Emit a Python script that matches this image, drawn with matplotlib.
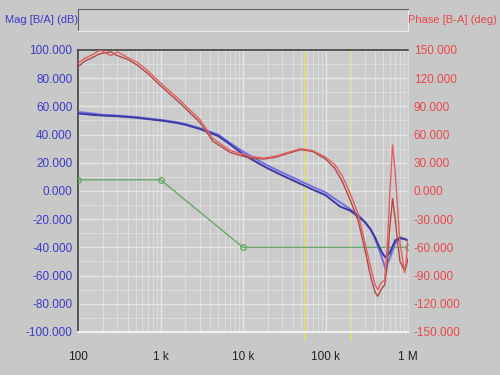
import numpy as np
import matplotlib
matplotlib.use('Agg')
import matplotlib.pyplot as plt
from matplotlib.ticker import FixedLocator, NullFormatter

plt.rcParams['font.family'] = ['Liberation Sans', 'DejaVu Sans']

# magnitude traces (dB)
mag_freq = [100, 150, 200, 300, 500, 700, 1e3, 1.5e3, 2e3, 3e3, 5e3, 7e3, 1e4, 1.5e4, 2e4, 3e4,
            5e4, 7e4, 1e5, 1.5e5, 2e5, 2.6e5, 3e5, 3.5e5, 4e5, 4.5e5, 5e5, 5.3e5, 6e5, 7e5, 8e5, 9e5, 1e6]
mag_a = [55, 54, 53.5, 53, 52, 51, 50, 48.5, 47, 44, 39, 33, 26, 20, 16, 11,
         5, 1, -3, -11, -14, -19, -22, -27, -33, -40, -45, -47, -44, -35, -33, -34, -35]
mag_b = [56, 55, 54, 53.5, 52.5, 51.5, 50.5, 49, 47.5, 44.5, 40, 34, 28, 22, 18, 13,
         7, 3, -1, -8, -13, -18, -22, -27, -34, -42, -50, -55, -48, -37, -34, -34, -35]

# phase traces (deg)
ph_freq = [100, 120, 150, 185, 250, 300, 400, 520, 700, 1e3, 1.7e3, 3e3, 4.3e3, 7e3, 1.2e4, 1.8e4,
           2.5e4, 3.5e4, 5e4, 7e4, 1e5, 1.3e5, 1.6e5, 2e5, 2.5e5, 3e5, 3.5e5, 4e5, 4.3e5, 4.7e5,
           5.2e5, 5.6e5, 6e5, 6.5e5, 7e5, 7.5e5, 8e5, 9.1e5, 9.5e5, 1e6]
ph_a = [136, 141, 145, 150, 144, 148, 142, 137, 128, 115, 97, 76, 56, 43, 37, 35,
        37, 41, 45, 43, 36, 28, 16, -3, -25, -55, -80, -100, -105, -98,
        -95, -60, -5, 49, 20, -20, -55, -87, -75, -52]
ph_b = [132, 138, 142, 146, 148, 144, 140, 134, 125, 112, 94, 73, 53, 41, 35, 34,
        36, 40, 44, 42, 34, 24, 10, -10, -32, -62, -90, -108, -112, -105,
        -100, -80, -40, -8, -30, -55, -75, -85, -80, -72]

# asymptote (dB)
asym_freq = [100, 1e3, 1e4, 1e6]
asym_mag = [8, 8, -40, -40]

markers = [56e3, 205e3]

x_ticks = [100, 1e3, 1e4, 1e5, 1e6]
x_labels = ['100', '1 k', '10 k', '100 k', '1 M']
mag_ticks = list(range(-100, 101, 20))
ph_ticks = list(range(-150, 151, 30))

bg = '#c8c8c8'
fig = plt.figure(figsize=(5, 3.75), dpi=100, facecolor=bg)
ax = fig.add_axes([0.156, 0.1147, 0.66, 0.752], facecolor='#cbcbcb')
ax.set_xscale('log')
ax.set_xlim(100, 1e6)
ax.set_ylim(-100, 100)

minor = [m * 10 ** d for d in range(2, 6) for m in range(2, 10)]
ax.xaxis.set_minor_locator(FixedLocator(minor))
ax.xaxis.set_minor_formatter(NullFormatter())
ax.set_xticks(x_ticks)
ax.set_xticklabels(x_labels)
ax.set_yticks(mag_ticks)
ax.set_yticklabels(['%.3f' % v for v in mag_ticks])
ax.set_yticks(list(range(-90, 100, 20)), minor=True)
ax.grid(True, which='major', color='#e6e6e6', lw=1.0)
ax.grid(True, which='minor', color='#dcdcdc', lw=0.8)
ax.tick_params(which='both', length=0)
ax.tick_params(axis='x', pad=14, labelsize=8.5, colors='#222222')
ax.tick_params(axis='y', pad=4, labelsize=8.5, labelcolor='#3a3ac8')

for s in ['left', 'top']:
    ax.spines[s].set_color('#404040')
    ax.spines[s].set_linewidth(1.2)
ax.spines['bottom'].set_color('#f0f0f0')
ax.spines['bottom'].set_linewidth(1.5)
ax.spines['right'].set_color('#d8d8d8')

for m in markers:
    ax.axvline(m, ymin=-0.03, ymax=1, color='#e4dc6a', lw=1.2, clip_on=False, zorder=1)

ax.plot(asym_freq, asym_mag, color='#6aa86a', lw=1.0, marker='o', ms=4,
        mfc='none', mec='#6aa86a', zorder=3)
ax.plot(mag_freq, mag_b, color='#7070e0', lw=1.4, zorder=4)
ax.plot(mag_freq, mag_a, color='#3a3aa0', lw=1.4, zorder=4)

ax2 = ax.twinx()
ax2.set_ylim(-150, 150)
ax2.set_yticks(ph_ticks)
ax2.set_yticklabels(['%.3f' % v for v in ph_ticks])
ax2.tick_params(length=0, pad=4, labelsize=8.5, labelcolor='#e84848')
for s in ax2.spines.values():
    s.set_visible(False)
ax2.plot(ph_freq, ph_b, color='#b04848', lw=1.0, zorder=4)
ax2.plot(ph_freq, ph_a, color='#e06060', lw=1.0, zorder=4)

# title bar box
box = fig.add_axes([0.156, 0.917, 0.66, 0.059], facecolor='#cdcdcd')
box.set_xticks([])
box.set_yticks([])
for s in ['left', 'top']:
    box.spines[s].set_color('#606060')
for s in ['right', 'bottom']:
    box.spines[s].set_color('#ececec')

fig.text(0.01, 0.946, 'Mag [B/A] (dB)', color='#3a3ac8', fontsize=8, va='center')
fig.text(0.993, 0.946, 'Phase [B-A] (deg)', color='#e84848', fontsize=8, va='center', ha='right')

fig.savefig('out.png', dpi=100, facecolor=bg)
